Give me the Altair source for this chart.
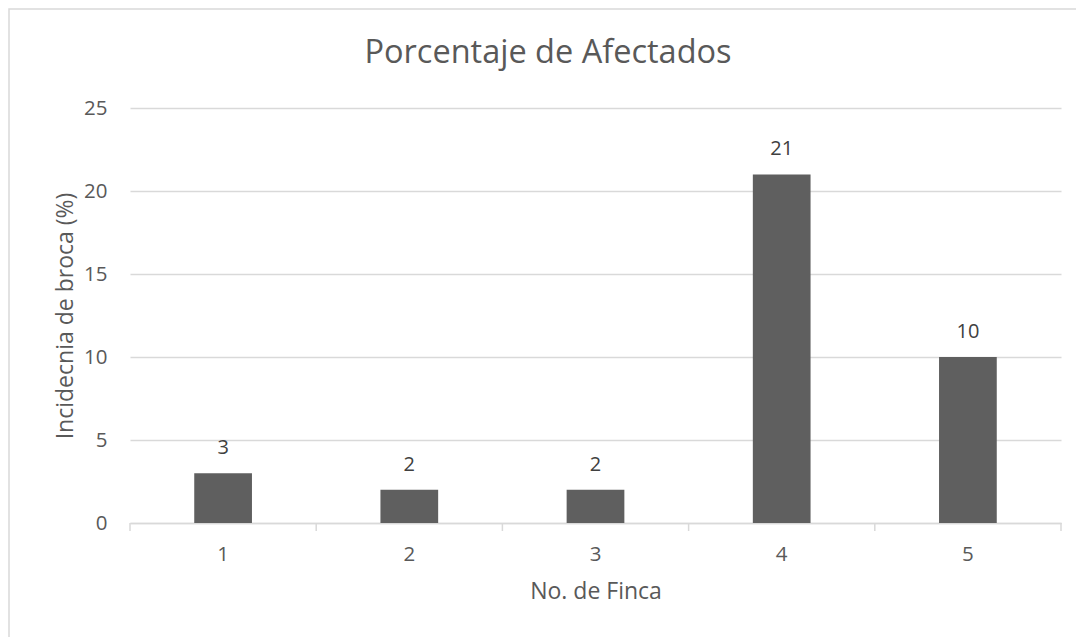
import altair as alt
import pandas as pd

fincas = ["1", "2", "3", "4", "5"]
incidencia = [3, 2, 2, 21, 10]
y_ticks = [0, 5, 10, 15, 20, 25]
chart_title = "Porcentaje de Afectados"

df = pd.DataFrame({"Finca": fincas, "Incidencia": incidencia})

W, H = 931, 415
FONT = "Open Sans"
TXT = "#595959"
GRID = "#d9d9d9"

xscale = alt.Scale(paddingInner=0, paddingOuter=0)
yscale = alt.Scale(domain=[0, 25], nice=False)

base = alt.Chart(df)
one = "datum.Finca == '1'"

border = base.mark_rect(fill=None, stroke=GRID, strokeWidth=1.5).encode(
    x=alt.value(-121), x2=alt.value(970), y=alt.value(-99), y2=alt.value(560)
).transform_filter(one)

title = base.mark_text(fontSize=32.5, font=FONT, color=TXT, baseline="alphabetic", align="center").encode(
    x=alt.value(418), y=alt.value(-45), text=alt.value(chart_title)
).transform_filter(one)

bars = base.mark_bar(color="#5f5f5f", width=alt.RelativeBandSize(0.31)).encode(
    x=alt.X("Finca:N", scale=xscale, sort=fincas,
            axis=alt.Axis(title="No. de Finca", labelAngle=0, ticks=False,
                          domainColor=GRID, domainWidth=1.5, labelPadding=21,
                          titlePadding=16)),
    y=alt.Y("Incidencia:Q", scale=yscale,
            axis=alt.Axis(title="Incidecnia de broca (%)", values=y_ticks,
                          domain=False, ticks=False, gridColor=GRID, gridWidth=1.5,
                          labelPadding=23, titlePadding=6)),
)

labels = base.mark_text(baseline="alphabetic", dy=-19, fontSize=20, font=FONT, color="#404040").encode(
    x=alt.X("Finca:N", sort=fincas, scale=xscale),
    y=alt.Y("Incidencia:Q", scale=yscale),
    text="Incidencia:Q",
)

ticks = base.mark_rule(color=GRID, strokeWidth=1.5).encode(
    x=alt.X("Finca:N", sort=fincas, scale=xscale, bandPosition=0),
    y=alt.value(H), y2=alt.value(H + 8),
)
last_tick = base.mark_rule(color=GRID, strokeWidth=1.5).encode(
    x=alt.value(W), y=alt.value(H), y2=alt.value(H + 8),
).transform_filter(one)

chart = alt.layer(border, title, bars, labels, ticks, last_tick).properties(
    width=W, height=H,
    autosize=alt.AutoSizeParams(type="none"),
    padding={"left": 130, "top": 108, "right": 15, "bottom": 114},
).configure_view(stroke=None).configure_axis(
    labelFont=FONT, titleFont=FONT, labelFontSize=20.5, titleFontSize=23,
    labelColor=TXT, titleColor=TXT, titleFontWeight="normal",
)

chart.save("out.html", embed_options={"renderer": "svg", "actions": False})
